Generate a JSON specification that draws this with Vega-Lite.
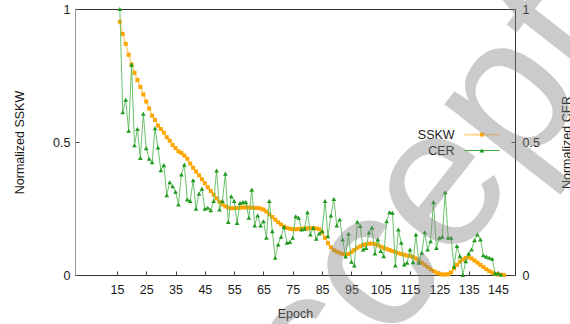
{
  "$schema": "https://vega.github.io/schema/vega-lite/v6.json",
  "width": 440,
  "height": 266,
  "autosize": {"type": "none"},
  "padding": {"left": 75, "top": 9, "right": 55, "bottom": 49},
  "background": "white",
  "config": {
    "font": "Liberation Sans",
    "view": {"stroke": "#333", "strokeWidth": 1},
    "axis": {
      "labelFont": "Liberation Sans", "labelFontSize": 12.5, "labelColor": "#1a1a1a",
      "titleFont": "Liberation Sans", "titleFontSize": 12.5, "titleFontWeight": "normal", "titleColor": "#1a1a1a",
      "grid": false, "domain": false, "tickColor": "#444", "tickSize": -4, "labelOverlap": false
    }
  },
  "datasets": {
    "sskw": [
      {"epoch":16,"v":0.952},{"epoch":17,"v":0.906},{"epoch":18,"v":0.869},{"epoch":19,"v":0.828},{"epoch":20,"v":0.791},
      {"epoch":21,"v":0.760},{"epoch":22,"v":0.733},{"epoch":23,"v":0.707},{"epoch":24,"v":0.679},{"epoch":25,"v":0.652},
      {"epoch":26,"v":0.626},{"epoch":27,"v":0.599},{"epoch":28,"v":0.583},{"epoch":29,"v":0.562},{"epoch":30,"v":0.549},
      {"epoch":31,"v":0.535},{"epoch":32,"v":0.518},{"epoch":33,"v":0.505},{"epoch":34,"v":0.489},{"epoch":35,"v":0.477},
      {"epoch":36,"v":0.465},{"epoch":37,"v":0.459},{"epoch":38,"v":0.449},{"epoch":39,"v":0.437},{"epoch":40,"v":0.419},
      {"epoch":41,"v":0.403},{"epoch":42,"v":0.389},{"epoch":43,"v":0.375},{"epoch":44,"v":0.360},{"epoch":45,"v":0.345},
      {"epoch":46,"v":0.330},{"epoch":47,"v":0.316},{"epoch":48,"v":0.302},{"epoch":49,"v":0.288},{"epoch":50,"v":0.275},
      {"epoch":51,"v":0.265},{"epoch":52,"v":0.258},{"epoch":53,"v":0.253},{"epoch":54,"v":0.251},{"epoch":55,"v":0.251},
      {"epoch":56,"v":0.252},{"epoch":57,"v":0.253},{"epoch":58,"v":0.254},{"epoch":59,"v":0.254},{"epoch":60,"v":0.254},
      {"epoch":61,"v":0.253},{"epoch":62,"v":0.252},{"epoch":63,"v":0.252},{"epoch":64,"v":0.250},{"epoch":65,"v":0.246},
      {"epoch":66,"v":0.238},{"epoch":67,"v":0.228},{"epoch":68,"v":0.218},{"epoch":69,"v":0.208},{"epoch":70,"v":0.198},
      {"epoch":71,"v":0.190},{"epoch":72,"v":0.182},{"epoch":73,"v":0.177},{"epoch":74,"v":0.174},{"epoch":75,"v":0.172},
      {"epoch":76,"v":0.172},{"epoch":77,"v":0.173},{"epoch":78,"v":0.174},{"epoch":79,"v":0.175},{"epoch":80,"v":0.175},
      {"epoch":81,"v":0.176},{"epoch":82,"v":0.176},{"epoch":83,"v":0.175},{"epoch":84,"v":0.172},{"epoch":85,"v":0.160},
      {"epoch":86,"v":0.140},{"epoch":87,"v":0.120},{"epoch":88,"v":0.104},{"epoch":89,"v":0.094},{"epoch":90,"v":0.088},
      {"epoch":91,"v":0.083},{"epoch":92,"v":0.079},{"epoch":93,"v":0.077},{"epoch":94,"v":0.079},{"epoch":95,"v":0.086},
      {"epoch":96,"v":0.094},{"epoch":97,"v":0.102},{"epoch":98,"v":0.108},{"epoch":99,"v":0.113},{"epoch":100,"v":0.116},
      {"epoch":101,"v":0.118},{"epoch":102,"v":0.118},{"epoch":103,"v":0.116},{"epoch":104,"v":0.112},{"epoch":105,"v":0.107},
      {"epoch":106,"v":0.102},{"epoch":107,"v":0.098},{"epoch":108,"v":0.094},{"epoch":109,"v":0.090},{"epoch":110,"v":0.086},
      {"epoch":111,"v":0.082},{"epoch":112,"v":0.079},{"epoch":113,"v":0.076},{"epoch":114,"v":0.073},{"epoch":115,"v":0.071},
      {"epoch":116,"v":0.068},{"epoch":117,"v":0.062},{"epoch":118,"v":0.054},{"epoch":119,"v":0.046},{"epoch":120,"v":0.038},
      {"epoch":121,"v":0.030},{"epoch":122,"v":0.022},{"epoch":123,"v":0.015},{"epoch":124,"v":0.009},{"epoch":125,"v":0.005},
      {"epoch":126,"v":0.002},{"epoch":127,"v":0.002},{"epoch":128,"v":0.003},{"epoch":129,"v":0.010},{"epoch":130,"v":0.025},
      {"epoch":131,"v":0.038},{"epoch":132,"v":0.050},{"epoch":133,"v":0.058},{"epoch":134,"v":0.064},{"epoch":135,"v":0.067},
      {"epoch":136,"v":0.062},{"epoch":137,"v":0.054},{"epoch":138,"v":0.046},{"epoch":139,"v":0.038},{"epoch":140,"v":0.030},
      {"epoch":141,"v":0.022},{"epoch":142,"v":0.015},{"epoch":143,"v":0.009},{"epoch":144,"v":0.004},{"epoch":145,"v":0.002},
      {"epoch":146,"v":0.001},{"epoch":147,"v":0.0}
    ],
    "cer": [
      {"epoch":16,"v":1.0},{"epoch":17,"v":0.612},{"epoch":18,"v":0.659},{"epoch":19,"v":0.542},{"epoch":20,"v":0.791},
      {"epoch":21,"v":0.488},{"epoch":22,"v":0.549},{"epoch":23,"v":0.440},{"epoch":24,"v":0.606},{"epoch":25,"v":0.477},
      {"epoch":26,"v":0.437},{"epoch":27,"v":0.424},{"epoch":28,"v":0.552},{"epoch":29,"v":0.479},{"epoch":30,"v":0.394},
      {"epoch":31,"v":0.413},{"epoch":32,"v":0.300},{"epoch":33,"v":0.349},{"epoch":34,"v":0.334},{"epoch":35,"v":0.313},
      {"epoch":36,"v":0.265},{"epoch":37,"v":0.378},{"epoch":38,"v":0.415},{"epoch":39,"v":0.284},{"epoch":40,"v":0.278},
      {"epoch":41,"v":0.356},{"epoch":42,"v":0.249},{"epoch":43,"v":0.306},{"epoch":44,"v":0.324},{"epoch":45,"v":0.249},
      {"epoch":46,"v":0.253},{"epoch":47,"v":0.244},{"epoch":48,"v":0.278},{"epoch":49,"v":0.393},{"epoch":50,"v":0.246},
      {"epoch":51,"v":0.278},{"epoch":52,"v":0.381},{"epoch":53,"v":0.199},{"epoch":54,"v":0.296},{"epoch":55,"v":0.278},
      {"epoch":56,"v":0.196},{"epoch":57,"v":0.271},{"epoch":58,"v":0.274},{"epoch":59,"v":0.274},{"epoch":60,"v":0.215},
      {"epoch":61,"v":0.321},{"epoch":62,"v":0.186},{"epoch":63,"v":0.224},{"epoch":64,"v":0.186},{"epoch":65,"v":0.202},
      {"epoch":66,"v":0.140},{"epoch":67,"v":0.278},{"epoch":68,"v":0.165},{"epoch":69,"v":0.065},{"epoch":70,"v":0.115},
      {"epoch":71,"v":0.144},{"epoch":72,"v":0.181},{"epoch":73,"v":0.121},{"epoch":74,"v":0.124},{"epoch":75,"v":0.140},
      {"epoch":76,"v":0.221},{"epoch":77,"v":0.215},{"epoch":78,"v":0.171},{"epoch":79,"v":0.174},{"epoch":80,"v":0.236},
      {"epoch":81,"v":0.152},{"epoch":82,"v":0.178},{"epoch":83,"v":0.136},{"epoch":84,"v":0.156},{"epoch":85,"v":0.165},
      {"epoch":86,"v":0.278},{"epoch":87,"v":0.146},{"epoch":88,"v":0.224},{"epoch":89,"v":0.286},{"epoch":90,"v":0.186},
      {"epoch":91,"v":0.209},{"epoch":92,"v":0.134},{"epoch":93,"v":0.070},{"epoch":94,"v":0.155},{"epoch":95,"v":0.050},
      {"epoch":96,"v":0.036},{"epoch":97,"v":0.200},{"epoch":98,"v":0.184},{"epoch":99,"v":0.096},{"epoch":100,"v":0.102},
      {"epoch":101,"v":0.160},{"epoch":102,"v":0.178},{"epoch":103,"v":0.081},{"epoch":104,"v":0.134},{"epoch":105,"v":0.090},
      {"epoch":106,"v":0.071},{"epoch":107,"v":0.202},{"epoch":108,"v":0.236},{"epoch":109,"v":0.234},{"epoch":110,"v":0.036},
      {"epoch":111,"v":0.171},{"epoch":112,"v":0.121},{"epoch":113,"v":0.040},{"epoch":114,"v":0.046},{"epoch":115,"v":0.096},
      {"epoch":116,"v":0.048},{"epoch":117,"v":0.152},{"epoch":118,"v":0.046},{"epoch":119,"v":0.084},{"epoch":120,"v":0.161},
      {"epoch":121,"v":0.096},{"epoch":122,"v":0.127},{"epoch":123,"v":0.274},{"epoch":124,"v":0.102},{"epoch":125,"v":0.140},
      {"epoch":126,"v":0.144},{"epoch":127,"v":0.311},{"epoch":128,"v":0.140},{"epoch":129,"v":0.140},{"epoch":130,"v":0.031},
      {"epoch":131,"v":0.109},{"epoch":132,"v":0.071},{"epoch":133,"v":0.0},{"epoch":134,"v":0.052},{"epoch":135,"v":0.081},
      {"epoch":136,"v":0.096},{"epoch":137,"v":0.131},{"epoch":138,"v":0.152},{"epoch":139,"v":0.134},{"epoch":140,"v":0.074},
      {"epoch":141,"v":0.069},{"epoch":142,"v":0.065},{"epoch":143,"v":0.061},{"epoch":144,"v":0.006},{"epoch":145,"v":0.006},
      {"epoch":146,"v":0.002}
    ],
    "one": [{"k": 1}]
  },
  "layer": [
    {
      "data": {"name": "sskw"},
      "encoding": {
        "x": {"field": "epoch", "type": "quantitative",
              "scale": {"domain": [0.7, 150.8], "nice": false, "zero": false},
              "axis": {"title": "Epoch", "values": [15,25,35,45,55,65,75,85,95,105,115,125,135,145], "tickCount": 20, "labelOverlap": false, "labelFlush": false, "labelPadding": 12, "titlePadding": 12}},
        "y": {"field": "v", "type": "quantitative",
              "scale": {"domain": [0, 1], "nice": false},
              "axis": {"title": "Normalized SSKW", "values": [0, 0.5, 1], "format": "~g", "labelPadding": 9, "titlePadding": 26, "domain": true, "domainColor": "#999"}}
      },
      "layer": [
        {"mark": {"type": "line", "color": "#FFD58A", "strokeWidth": 1.6}},
        {"mark": {"type": "point", "shape": "square", "filled": true, "color": "#FFA500", "size": 16, "opacity": 1}}
      ]
    },
    {
      "layer": [
        {
          "data": {"name": "cer"},
          "encoding": {
            "x": {"field": "epoch", "type": "quantitative",
                  "axis": {"title": "Epoch", "values": [15,25,35,45,55,65,75,85,95,105,115,125,135,145], "tickCount": 20, "labelOverlap": false, "labelFlush": false, "labelPadding": 12, "titlePadding": 12}},
            "y": {"field": "v", "type": "quantitative",
                  "scale": {"domain": [0, 1], "nice": false},
                  "axis": {"title": "Normalized CER", "orient": "right", "values": [0, 0.5, 1], "format": "~g", "labelPadding": 11, "titlePadding": 34, "titleAngle": -90}}
          },
          "layer": [
            {"mark": {"type": "line", "color": "#5cba5c", "strokeWidth": 1, "opacity": 0.9}},
            {"mark": {"type": "point", "shape": "triangle-up", "filled": true, "color": "#1f9a1f", "size": 22, "opacity": 1}}
          ]
        },
        {
          "data": {"name": "one"},
          "mark": {"type": "text", "text": "SSKW", "align": "right", "baseline": "middle", "fontSize": 12.5, "font": "Liberation Sans", "color": "#1a1a1a"},
          "encoding": {"x": {"datum": 130.2, "type": "quantitative"}, "y": {"datum": 0.528, "type": "quantitative"}}
        },
        {
          "data": {"name": "one"},
          "mark": {"type": "text", "text": "CER", "align": "right", "baseline": "middle", "fontSize": 12.5, "font": "Liberation Sans", "color": "#1a1a1a"},
          "encoding": {"x": {"datum": 130.2, "type": "quantitative"}, "y": {"datum": 0.468, "type": "quantitative"}}
        },
        {
          "data": {"name": "one"},
          "mark": {"type": "rule", "color": "#FFD58A", "strokeWidth": 1.8},
          "encoding": {"x": {"datum": 133.5, "type": "quantitative"}, "x2": {"datum": 145.5}, "y": {"datum": 0.528, "type": "quantitative"}}
        },
        {
          "data": {"name": "one"},
          "mark": {"type": "point", "shape": "square", "filled": true, "color": "#FFA500", "size": 16, "opacity": 1},
          "encoding": {"x": {"datum": 139.5, "type": "quantitative"}, "y": {"datum": 0.528, "type": "quantitative"}}
        },
        {
          "data": {"name": "one"},
          "mark": {"type": "rule", "color": "#3aa83a", "strokeWidth": 1},
          "encoding": {"x": {"datum": 133.5, "type": "quantitative"}, "x2": {"datum": 145.5}, "y": {"datum": 0.468, "type": "quantitative"}}
        },
        {
          "data": {"name": "one"},
          "mark": {"type": "point", "shape": "triangle-up", "filled": true, "color": "#1f9a1f", "size": 22, "opacity": 1},
          "encoding": {"x": {"datum": 139.5, "type": "quantitative"}, "y": {"datum": 0.468, "type": "quantitative"}}
        },
        {
          "data": {"name": "one"},
          "mark": {"type": "text", "text": "Accepted", "align": "center", "baseline": "middle", "fontSize": 200, "font": "Liberation Sans", "color": "#808080", "opacity": 0.4, "angle": 308},
          "encoding": {"x": {"datum": 130.4, "type": "quantitative"}, "y": {"datum": 0.415, "type": "quantitative"}}
        }
      ]
    }
  ],
  "resolve": {"scale": {"y": "independent"}}
}
